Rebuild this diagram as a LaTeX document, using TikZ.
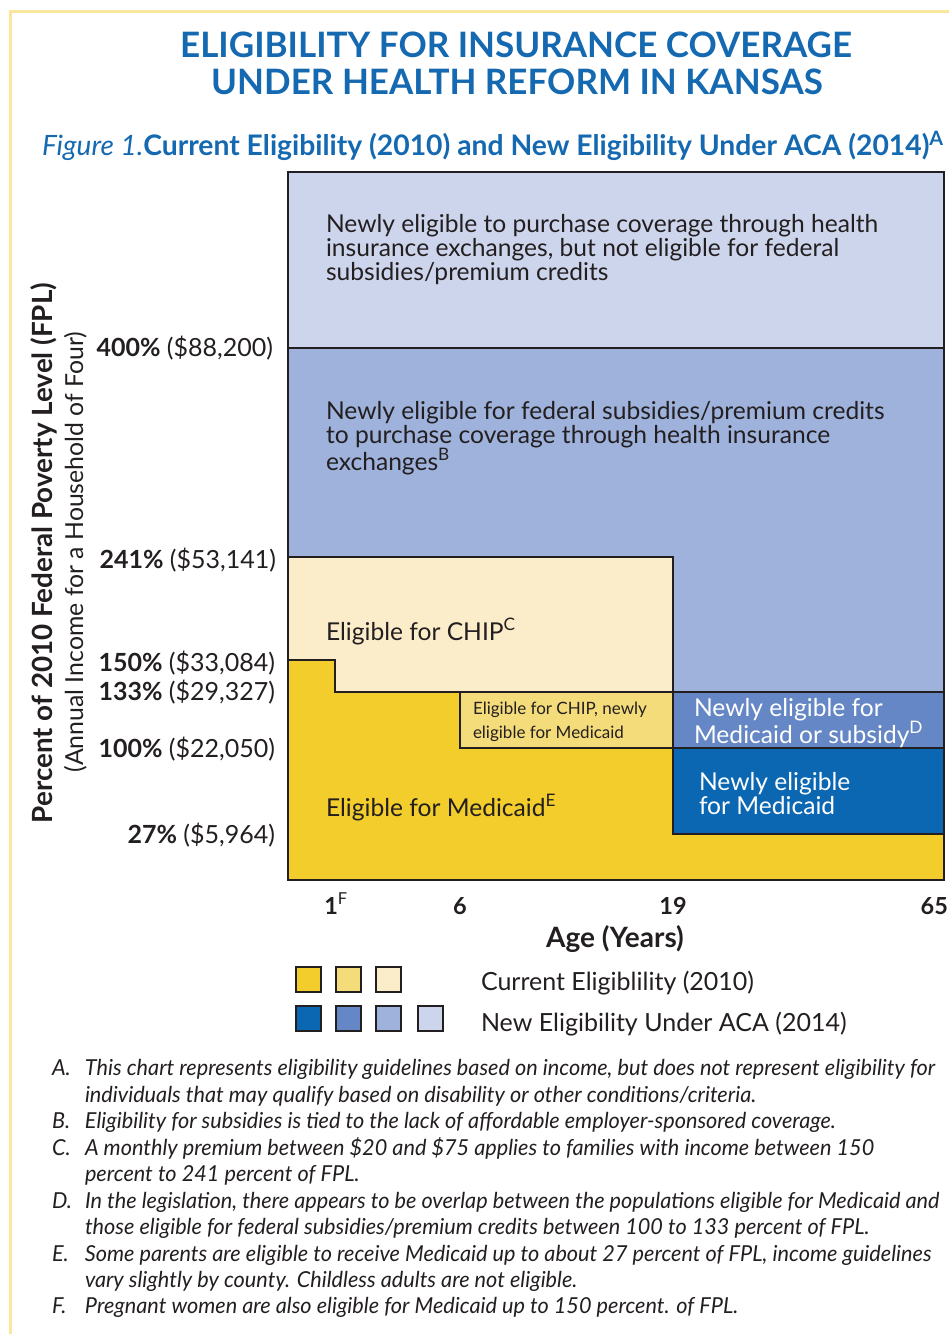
\documentclass[tikz,border=0pt]{standalone}
\usepackage{fontspec}
\setmainfont{Lato}
\newfontfamily\footfont[FakeStretch=0.985]{Lato}
\definecolor{ttl}{HTML}{1469B1}
\definecolor{ink}{HTML}{231F20}
\definecolor{bord}{HTML}{FCE59C}
\definecolor{yA}{HTML}{F2CD2C}
\definecolor{yB}{HTML}{F5DC7B}
\definecolor{yC}{HTML}{FCEDCA}
\definecolor{bA}{HTML}{0B67B2}
\definecolor{bB}{HTML}{6687C5}
\definecolor{bC}{HTML}{9EB2DC}
\definecolor{bD}{HTML}{CDD5EC}
\newcommand\fnlab[1]{\makebox[33pt][l]{#1}}
\tikzset{
  every node/.style={inner sep=0pt, outer sep=0pt, text=ink},
  region/.style={draw=ink, line width=2.5pt, line join=miter},
  ttlstyle/.style={text=ttl, font=\fontsize{35}{35}\selectfont\bfseries},
  areatext/.style={align=left, anchor=base west, font=\fontsize{24.6}{24}\selectfont},
  ylab/.style={anchor=base east, font=\fontsize{25}{25}\selectfont},
  xlab/.style={anchor=base, font=\fontsize{23.5}{24}\selectfont\bfseries},
  legsq/.style={draw=ink, line width=2.5pt},
  legtext/.style={anchor=base west, font=\fontsize{25}{25}\selectfont},
  fn/.style={anchor=base west, font=\fontsize{22}{22}\footfont\itshape},
}
\begin{document}
\begin{tikzpicture}[x=1pt,y=-1pt]
\useasboundingbox (0,0) rectangle (949,1334);
\fill[white] (0,0) rectangle (949,1334);
\draw[bord, line width=3pt] (10.5,1334) -- (10.5,11.5) -- (949,11.5);

% Titles
\node[ttlstyle, anchor=base] (t1) at (516,57) {ELIGIBILITY FOR INSURANCE COVERAGE};
\node[ttlstyle, anchor=base] (t2) at (517,94) {UNDER HEALTH REFORM IN KANSAS};
\node[anchor=base west, text=ttl] (sub) at (42,155) {{\fontsize{28}{28}\selectfont\itshape Figure 1.}{\fontsize{28.3}{28}\selectfont\bfseries Current Eligibility (2010) and New Eligibility Under ACA (2014)\textsuperscript{A}}};

% Regions
\path[region, fill=bD] (288,172) rectangle (944,348);
\path[region, fill=bC] (288,348) -- (944,348) -- (944,692) -- (673,692) -- (673,557) -- (288,557) -- cycle;
\path[region, fill=yC] (288,557) -- (673,557) -- (673,692) -- (335,692) -- (335,660) -- (288,660) -- cycle;
\path[region, fill=yB] (460,692) rectangle (673,748);
\path[region, fill=yA] (288,660) -- (335,660) -- (335,692) -- (460,692) -- (460,748) -- (673,748) -- (673,834) -- (944,834) -- (944,880) -- (288,880) -- cycle;
\path[region, fill=bB] (673,692) rectangle (944,748);
\path[region, fill=bA] (673,748) rectangle (944,834);

% Region texts (anchor = baseline of last line)
\node[areatext] (r1) at (326,280) {Newly eligible to purchase coverage through health\\insurance exchanges, but not eligible for federal\\subsidies/premium credits};
\node[areatext] (r2) at (326,470) {Newly eligible for federal subsidies/premium credits\\to purchase coverage through health insurance\\exchanges\textsuperscript{B}};
\node[areatext] (r3) at (326,640) {Eligible for CHIP\textsuperscript{C}};
\node[areatext, font=\fontsize{17}{24}\selectfont] (r4) at (473,738) {Eligible for CHIP, newly\\eligible for Medicaid};
\node[areatext] (r5) at (326,816) {Eligible for Medicaid\textsuperscript{E}};
\node[areatext, text=white] (r6) at (694,743) {Newly eligible for\\Medicaid or subsidy\textsuperscript{D}};
\node[areatext, text=white] (r7) at (699,814) {Newly eligible\\for Medicaid};

% Y labels
\node[ylab] (y400) at (273,356) {\textbf{400\%} (\$88,200)};
\node[ylab] (y241) at (276,568) {\textbf{241\%} (\$53,141)};
\node[ylab] (y150) at (275,671) {\textbf{150\%} (\$33,084)};
\node[ylab] (y133) at (275,700) {\textbf{133\%} (\$29,327)};
\node[ylab] (y100) at (275,757) {\textbf{100\%} (\$22,050)};
\node[ylab] (y27) at (275,843) {\textbf{27\%} (\$5,964)};
\node[rotate=90, anchor=base, font=\fontsize{27.8}{28}\selectfont\bfseries] (yt1) at (52,553) {Percent of 2010 Federal Poverty Level (FPL)};
\node[rotate=90, anchor=base, font=\fontsize{24.8}{25}\selectfont] (yt2) at (83,552) {(Annual Income for a Household of Four)};

% X labels
\node[xlab] (x1) at (336,914) {1\textsuperscript{\mdseries F}};
\node[xlab] (x6) at (460,914) {6};
\node[xlab] (x19) at (673,914) {19};
\node[xlab, anchor=base east] (x65) at (948,914) {65};
\node[anchor=base, font=\fontsize{28}{28}\selectfont\bfseries] (xt) at (615,947) {Age (Years)};

% Legend
\path[legsq, fill=yA] (296,967) rectangle (321,992);
\path[legsq, fill=yB] (336,967) rectangle (361,992);
\path[legsq, fill=yC] (376,967) rectangle (401,992);
\path[legsq, fill=bA] (296,1006) rectangle (321,1031);
\path[legsq, fill=bB] (336,1006) rectangle (361,1031);
\path[legsq, fill=bC] (376,1006) rectangle (401,1031);
\path[legsq, fill=bD] (418,1006) rectangle (443,1031);
\node[legtext] (l1) at (481,990) {Current Eligiblility (2010)};
\node[legtext] (l2) at (481,1031) {New Eligibility Under ACA (2014)};

% Footnotes
\node[fn] (fA) at (52,1075) {\fnlab{A.}This chart represents eligibility guidelines based on income, but does not represent eligibility for};
\node[fn] (fA2) at (85,1102) {individuals that may qualify based on disability or other conditions/criteria.};
\node[fn] (fB) at (52,1128) {\fnlab{B.}Eligibility for subsidies is tied to the lack of affordable employer-sponsored coverage.};
\node[fn] (fC) at (52,1155) {\fnlab{C.}A monthly premium between \$20 and \$75 applies to families with income between 150};
\node[fn] (fC2) at (85,1181) {percent to 241 percent of FPL.};
\node[fn] (fD) at (52,1208) {\fnlab{D.}In the legislation, there appears to be overlap between the populations eligible for Medicaid and};
\node[fn] (fD2) at (85,1234) {those eligible for federal subsidies/premium credits between 100 to 133 percent of FPL.};
\node[fn] (fE) at (52,1261) {\fnlab{E.}Some parents are eligible to receive Medicaid up to about 27 percent of FPL, income guidelines};
\node[fn] (fE2) at (85,1287) {vary slightly by county. Childless adults are not eligible.};
\node[fn] (fF) at (52,1313) {\fnlab{F.}Pregnant women are also eligible for Medicaid up to 150 percent. of FPL.};
\end{tikzpicture}
\end{document}
